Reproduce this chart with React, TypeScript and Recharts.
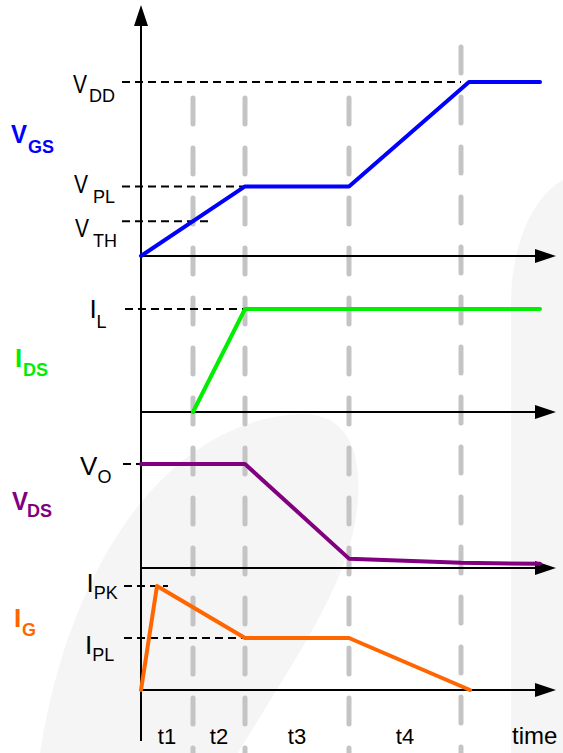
import React from "react";
import { LineChart, Line, XAxis, YAxis, ReferenceLine, ReferenceDot } from "recharts";

const W = 563;
const H = 753;
const FONT = "'Liberation Sans', Arial, Helvetica, sans-serif";

// time axis in arbitrary units (t = 0 on the vertical axis)
const X_DOMAIN: [number, number] = [-14.1, 42.2];
const PHASE_ENDS = [5.2, 10.4, 20.8, 32.0];
const PHASE_NAMES = ["t1", "t2", "t3", "t4"];
const T_ARROW = 41.5;

// signal levels
const VTH = 2;
const VPL = 4;
const VDD = 10;
const IL = 10;
const VO = 10;
const IPL = 1;
const IPK = 2;

const vgsData = [
  { t: 0, v: 0 },
  { t: 10.4, v: VPL },
  { t: 20.8, v: VPL },
  { t: 32.8, v: VDD },
  { t: 39.9, v: VDD },
];
const idsData = [
  { t: 5.2, v: 0 },
  { t: 10.4, v: IL },
  { t: 39.9, v: IL },
];
const vdsData = [
  { t: 0, v: VO },
  { t: 10.4, v: VO },
  { t: 20.8, v: 0.9 },
  { t: 32.0, v: 0.5 },
  { t: 39.9, v: 0.4 },
];
const igData = [
  { t: 0, v: 0 },
  { t: 1.6, v: IPK },
  { t: 10.4, v: IPL },
  { t: 20.8, v: IPL },
  { t: 32.9, v: 0 },
];

// where each panel's zero sits and how tall one unit is
const PANELS: Record<string, { base: number; ppu: number }> = {
  vgs: { base: 256, ppu: 17.4 },
  ids: { base: 412, ppu: 10.3 },
  vds: { base: 568, ppu: 10.4 },
  ig: { base: 690, ppu: 52 },
};
const panelDomain = (id: string): [number, number] => {
  const p = PANELS[id];
  return [-(H - p.base) / p.ppu, p.base / p.ppu];
};

const SIGNALS = [
  { id: "vgs", data: vgsData, color: "#0000ff", main: "V", sub: "GS", x: 11, y: 143, subDx: 17, subDy: 10, len: 16 },
  { id: "ids", data: idsData, color: "#00ee00", main: "I", sub: "DS", x: 15, y: 367, subDx: 8, subDy: 9 },
  { id: "vds", data: vdsData, color: "#800080", main: "V", sub: "DS", x: 12, y: 510, subDx: 15, subDy: 7, len: 16 },
  { id: "ig", data: igData, color: "#ff6600", main: "I", sub: "G", x: 14, y: 627, subDx: 8, subDy: 9 },
];

// dashed reference levels with their labels
const LEVELS = [
  { id: "vgs", value: VDD, from: -1.9, to: 32.0, main: "V", sub: "DD", dx: -49, dy: 11, subDx: 16, subDy: 9, len: 14 },
  { id: "vgs", value: VPL, from: -1.9, to: 10.4, main: "V", sub: "PL", dx: -48, dy: 7, subDx: 19, subDy: 10, len: 14 },
  { id: "vgs", value: VTH, from: -1.9, to: 7.1, main: "V", sub: "TH", dx: -47, dy: 16, subDx: 18, subDy: 10, len: 14 },
  { id: "ids", value: IL, from: -1.6, to: 10.4, main: "I", sub: "L", dx: -35.5, dy: 9, subDx: 7, subDy: 10 },
  { id: "vds", value: VO, from: -1.8, to: 0, main: "V", sub: "O", dx: -43, dy: 11, subDx: 17.5, subDy: 8 },
  { id: "ig", value: IPK, from: -1.7, to: 2.7, main: "I", sub: "PK", dx: -37.5, dy: 6, subDx: 7.3, subDy: 7 },
  { id: "ig", value: IPL, from: -1.7, to: 10.4, main: "I", sub: "PL", dx: -39, dy: 16, subDx: 7.3, subDy: 7 },
];

const GRAY_TOPS = [98, 98, 98, 47];

function ArrowLine(p: any) {
  const { x1, y1, x2, y2 } = p;
  const dx = x2 - x1;
  const dy = y2 - y1;
  const len = Math.hypot(dx, dy) || 1;
  const ux = dx / len;
  const uy = dy / len;
  const L = 21;
  const hw = 7;
  const bx = x2 - ux * L;
  const by = y2 - uy * L;
  return (
    <g>
      <line x1={x1} y1={y1} x2={bx + ux * 3} y2={by + uy * 3} stroke="#000" strokeWidth={2} />
      <polygon
        points={`${x2},${y2} ${bx - uy * hw},${by + ux * hw} ${bx + uy * hw},${by - ux * hw}`}
        fill="#000"
      />
    </g>
  );
}

function SubText(props: {
  x: number; y: number; main: string; sub: string; color: string; bold?: boolean;
  subDx: number; subDy: number; len?: number; mainSize: number; subSize: number;
}) {
  const { x, y, main, sub, color, bold, subDx, subDy, len, mainSize, subSize } = props;
  return (
    <g fontFamily={FONT} fill={color} fontWeight={bold ? 700 : 400}>
      <text x={x} y={y} fontSize={mainSize} textLength={len} lengthAdjust={len ? "spacingAndGlyphs" : undefined}>
        {main}
      </text>
      <text x={x + subDx} y={y + subDy} fontSize={subSize}>
        {sub}
      </text>
    </g>
  );
}

const tAt = (px: number) => X_DOMAIN[0] + px / 10;

export default function App() {
  const mids = PHASE_ENDS.map((e, i) => (e + (i === 0 ? 0 : PHASE_ENDS[i - 1])) / 2);
  return (
    <div style={{ position: "absolute", left: 0, top: 0, width: W, height: H, background: "#fff" }}>
      <svg width={W} height={H} style={{ position: "absolute", left: 0, top: 0 }}>
        <path d="M 40 753 C 70 560, 170 420, 300 414 C 340 413, 362 440, 358 500 C 352 580, 300 650, 238 753 Z" fill="#f5f5f5" />
        <path d="M 511 753 L 511 300 C 512 240, 535 195, 563 180 L 563 753 Z" fill="#f5f5f5" />
      </svg>
      <LineChart width={W} height={H} margin={{ top: 0, right: 0, bottom: 0, left: 0 }}>
        <XAxis type="number" dataKey="t" domain={X_DOMAIN} allowDataOverflow hide />
        <YAxis yAxisId="frame" type="number" domain={[0, H]} reversed allowDataOverflow hide />
        {Object.keys(PANELS).map((id) => (
          <YAxis key={id} yAxisId={id} type="number" domain={panelDomain(id)} allowDataOverflow hide />
        ))}

        {/* phase boundaries */}
        {PHASE_ENDS.map((t, i) => (
          <ReferenceLine
            key={`g${i}`}
            yAxisId="frame"
            segment={[{ x: t, y: GRAY_TOPS[i] }, { x: t, y: H }]}
            stroke="#c4c4c4"
            strokeWidth={5}
            strokeDasharray="26 24"
            strokeLinecap="round"
          />
        ))}

        {/* level markers */}
        {LEVELS.map((l, i) => (
          <ReferenceLine
            key={`l${i}`}
            yAxisId={l.id}
            segment={[{ x: l.from, y: l.value }, { x: l.to, y: l.value }]}
            stroke="#000"
            strokeWidth={2}
            strokeDasharray="8 5"
            label={(p: any) => (
              <SubText
                x={p.viewBox.x + l.dx}
                y={p.viewBox.y + l.dy}
                main={l.main}
                sub={l.sub}
                color="#000"
                subDx={l.subDx}
                subDy={l.subDy}
                len={l.len}
                mainSize={26}
                subSize={18}
              />
            )}
          />
        ))}

        {/* axes */}
        <ReferenceLine yAxisId="frame" segment={[{ x: 0, y: 741 }, { x: 0, y: 5 }]} shape={ArrowLine} />
        {Object.keys(PANELS).map((id) => (
          <ReferenceLine
            key={`a${id}`}
            yAxisId={id}
            segment={[{ x: 0, y: 0 }, { x: T_ARROW, y: 0 }]}
            shape={ArrowLine}
          />
        ))}

        {/* signal names */}
        {SIGNALS.map((s) => (
          <ReferenceDot
            key={`n${s.id}`}
            yAxisId="frame"
            x={tAt(s.x)}
            y={s.y}
            r={1}
            fill="none"
            stroke="none"
            label={(p: any) => (
              <SubText
                x={p.viewBox.x + 1}
                y={p.viewBox.y + 1}
                main={s.main}
                sub={s.sub}
                color={s.color}
                bold
                subDx={s.subDx}
                subDy={s.subDy}
                len={s.len}
                mainSize={26}
                subSize={18}
              />
            )}
          />
        ))}

        {/* phase names */}
        {mids.map((m, i) => (
          <ReferenceDot
            key={`p${i}`}
            yAxisId="frame"
            x={m}
            y={744}
            r={1}
            fill="none"
            stroke="none"
            label={(p: any) => (
              <text x={p.viewBox.x + 1} y={p.viewBox.y + 1} textAnchor="middle" fontFamily={FONT} fontSize={22} fill="#000">
                {PHASE_NAMES[i]}
              </text>
            )}
          />
        ))}
        <ReferenceDot
          yAxisId="frame"
          x={tAt(512)}
          y={744}
          r={1}
          fill="none"
          stroke="none"
          label={(p: any) => (
            <text x={p.viewBox.x + 1} y={p.viewBox.y + 1} fontFamily={FONT} fontSize={24} fill="#000">
              time
            </text>
          )}
        />

        {SIGNALS.map((s) => (
          <Line
            key={s.id}
            yAxisId={s.id}
            data={s.data}
            dataKey="v"
            type="linear"
            stroke={s.color}
            strokeWidth={4}
            strokeLinejoin="round"
            strokeLinecap="round"
            dot={false}
            activeDot={false}
            isAnimationActive={false}
          />
        ))}
      </LineChart>
    </div>
  );
}
